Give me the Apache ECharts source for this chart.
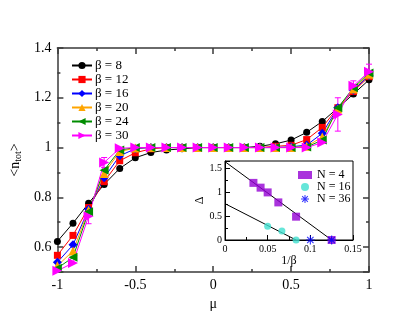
<!DOCTYPE html>
<html>
<head>
<meta charset="utf-8">
<script src="https://cdn.jsdelivr.net/npm/echarts@6/dist/echarts.min.js"></script>
<style>
  html, body { margin: 0; padding: 0; background: #fff; }
  #chart { width: 415px; height: 321px; }
</style>
</head>
<body>
<div id="chart"></div>
<script>
// main panel: <n_tot> vs mu for several beta
const muVals = [-1, -0.9, -0.8, -0.7, -0.6, -0.5, -0.4, -0.3, -0.2, -0.1, 0, 0.1, 0.2, 0.3, 0.4, 0.5, 0.6, 0.7, 0.8, 0.9, 1];
const beta8  = [0.623, 0.696, 0.776, 0.852, 0.916, 0.959, 0.98, 0.99, 0.995, 1.0, 1.0, 1.0, 1.0, 1.005, 1.015, 1.03, 1.061, 1.105, 1.159, 1.215, 1.272];
const beta12 = [0.567, 0.647, 0.759, 0.863, 0.947, 0.979, 0.995, 1.0, 1.0, 1.0, 1.0, 1.0, 1.0, 1.0, 1.005, 1.009, 1.032, 1.081, 1.16, 1.225, 1.285];
const beta16 = [0.539, 0.609, 0.752, 0.879, 0.967, 0.995, 1.0, 1.0, 1.0, 1.0, 1.0, 1.0, 1.0, 1.0, 1.0, 1.003, 1.01, 1.057, 1.16, 1.23, 1.29];
const beta20 = [0.525, 0.584, 0.748, 0.896, 0.984, 0.998, 1.0, 1.0, 1.0, 1.0, 1.0, 1.0, 1.0, 1.0, 1.0, 1.0, 1.005, 1.042, 1.155, 1.235, 1.295];
const beta24 = [0.515, 0.559, 0.742, 0.909, 0.99, 1.0, 1.0, 1.0, 1.0, 1.0, 1.0, 1.0, 1.0, 1.0, 1.0, 1.0, 1.002, 1.03, 1.16, 1.24, 1.3];
const beta30 = [0.505, 0.536, 0.724, 0.94, 0.997, 1.0, 1.0, 1.0, 1.0, 1.0, 1.0, 1.0, 1.0, 1.0, 1.0, 1.0, 1.0, 1.02, 1.133, 1.248, 1.305];
// error bars on beta = 30: [mu, value, error]
const beta30Err = [[-0.8, 0.724, 0.03], [-0.7, 0.94, 0.02], [0.8, 1.133, 0.067], [0.9, 1.248, 0.02], [1.0, 1.305, 0.03]];

// inset: gap vs 1/beta
const n4X  = [0.0333, 0.0417, 0.05, 0.0625, 0.0833, 0.125];
const n4Y  = [1.2, 1.1, 1.0, 0.79, 0.49, 0.0];
const n16X = [0.05, 0.0667, 0.0833];
const n16Y = [0.29, 0.19, 0.0];
const n36X = [0.1, 0.125];
const n36Y = [0.0, 0.0];
const fit1 = [[0, 1.646], [0.125, 0]];
const fit2 = [[0, 0.764], [0.0833, 0]];

const FONT = 'Liberation Serif';
const AXIS = '#3a3a3a';
const zip = (xs, ys) => xs.map((x, i) => [x, ys[i]]);
const asterisk = 'path://M-1,-8L1,-8L1,8L-1,8Z M-8,-1L8,-1L8,1L-8,1Z M-5,-6.4L6.4,5L5,6.4L-6.4,-5Z M6.4,-5L-5,6.4L-6.4,5L5,-6.4Z';

const chart = echarts.init(document.getElementById('chart'), null, { renderer: 'canvas' });

function mainSeries(name, ys, color, symbol, size, rotate) {
  return {
    name: name,
    type: 'line',
    xAxisIndex: 0,
    yAxisIndex: 0,
    data: zip(muVals, ys),
    symbol: symbol,
    symbolSize: size,
    symbolRotate: rotate || 0,
    showAllSymbol: true,
    itemStyle: { color: color },
    lineStyle: { color: color, width: 1 },
    z: 3
  };
}

function mainAxisX(pos) {
  return {
    type: 'value', gridIndex: 0, position: pos,
    min: -1, max: 1, interval: 0.5,
    axisLine: { show: true, onZero: false, lineStyle: { color: AXIS, width: 1.5 } },
    axisTick: { show: true, inside: true, length: 6, lineStyle: { color: AXIS, width: 1.5 } },
    minorTick: { show: true, splitNumber: 2, length: 3, lineStyle: { color: AXIS, width: 1.5 } },
    axisLabel: { show: pos === 'bottom', color: '#000', fontFamily: FONT, fontSize: 14, margin: 6 },
    splitLine: { show: false },
    name: pos === 'bottom' ? 'μ' : '',
    nameLocation: 'middle', nameGap: 21,
    nameTextStyle: { color: '#000', fontFamily: FONT, fontSize: 14 }
  };
}

function mainAxisY(pos) {
  return {
    type: 'value', gridIndex: 0, position: pos,
    min: 0.5, max: 1.4, splitNumber: 5,
    axisLine: { show: true, onZero: false, lineStyle: { color: AXIS, width: 1.5 } },
    axisTick: { show: true, inside: true, length: 6, lineStyle: { color: AXIS, width: 1.5 } },
    minorTick: { show: true, splitNumber: 2, length: 3, lineStyle: { color: AXIS, width: 1.5 } },
    axisLabel: {
      show: pos === 'left', showMinLabel: false, color: '#000', fontFamily: FONT, fontSize: 14, margin: 6,
      formatter: v => String(Math.round(v * 10) / 10)
    },
    splitLine: { show: false },
    name: pos === 'left' ? '<n{s|tot}>' : '',
    nameLocation: 'middle', nameGap: 28, nameRotate: 90,
    nameTextStyle: {
      color: '#000', fontFamily: FONT, fontSize: 14,
      rich: { s: { fontFamily: FONT, fontSize: 10, verticalAlign: 'bottom', padding: [6, 0, 0, 0] } }
    }
  };
}

const insetAxisStyle = {
  axisLine: { show: true, onZero: false, lineStyle: { color: '#000', width: 1 } },
  axisTick: { show: true, inside: true, length: 5, lineStyle: { color: '#000' } },
  minorTick: { show: true, splitNumber: 2, length: 3, lineStyle: { color: '#000' } },
  splitLine: { show: false }
};

const option = {
  backgroundColor: '#fff',
  animation: false,
  grid: [
    { left: 48, top: 48, right: 46, bottom: 49 },
    { left: 225, top: 161, right: 62, bottom: 81, show: true, backgroundColor: '#fff', borderColor: '#000', borderWidth: 1, z: 4 }
  ],
  legend: [
    {
      data: ['β = 8', 'β = 12', 'β = 16', 'β = 20', 'β = 24', 'β = 30'],
      orient: 'vertical', left: 66, top: 54, itemGap: 1,
      itemWidth: 20, itemHeight: 9,
      textStyle: { color: '#000', fontFamily: FONT, fontSize: 13, padding: [0, 0, 0, -2] }
    },
    {
      data: ['N = 4', 'N = 16', 'N = 36'],
      orient: 'vertical', left: 293, top: 164, itemGap: 0,
      itemWidth: 14, itemHeight: 8,
      textStyle: { color: '#000', fontFamily: FONT, fontSize: 12 },
      z: 6
    }
  ],
  xAxis: [
    mainAxisX('bottom'),
    mainAxisX('top'),
    Object.assign({
      type: 'value', gridIndex: 1, min: 0, max: 0.15, interval: 0.05,
      axisLabel: { color: '#000', fontFamily: FONT, fontSize: 10, margin: 4, formatter: v => String(Math.round(v * 100) / 100) },
      name: '1/β', nameLocation: 'middle', nameGap: 15,
      nameTextStyle: { color: '#000', fontFamily: FONT, fontSize: 12 },
      z: 5
    }, insetAxisStyle)
  ],
  yAxis: [
    mainAxisY('left'),
    mainAxisY('right'),
    Object.assign({
      type: 'value', gridIndex: 1, min: 0, max: 1.66, interval: 0.5,
      axisLabel: { color: '#000', fontFamily: FONT, fontSize: 10, margin: 3, showMaxLabel: false },
      name: 'Δ', nameLocation: 'middle', nameGap: 16, nameRotate: 90,
      nameTextStyle: { color: '#000', fontFamily: FONT, fontSize: 12 },
      z: 5
    }, insetAxisStyle)
  ],
  series: [
    {
      name: 'err30',
      type: 'custom',
      xAxisIndex: 0, yAxisIndex: 0,
      data: beta30Err,
      z: 2,
      renderItem: (params, api) => {
        const x = api.value(0), y = api.value(1), e = api.value(2);
        const top = api.coord([x, y + e]);
        const bot = api.coord([x, y - e]);
        const style = { stroke: '#ff00ff', lineWidth: 1 };
        return {
          type: 'group',
          children: [
            { type: 'line', shape: { x1: top[0], y1: top[1], x2: bot[0], y2: bot[1] }, style: style },
            { type: 'line', shape: { x1: top[0] - 3, y1: top[1], x2: top[0] + 3, y2: top[1] }, style: style },
            { type: 'line', shape: { x1: bot[0] - 3, y1: bot[1], x2: bot[0] + 3, y2: bot[1] }, style: style }
          ]
        };
      }
    },
    mainSeries('β = 8', beta8, '#000000', 'circle', 7),
    mainSeries('β = 12', beta12, '#ff0000', 'rect', 7),
    mainSeries('β = 16', beta16, '#0000ff', 'diamond', 9),
    mainSeries('β = 20', beta20, '#ffa500', 'triangle', 9),
    mainSeries('β = 24', beta24, '#008c00', 'triangle', 9, 90),
    mainSeries('β = 30', beta30, '#ff00ff', 'triangle', 10, -90),

    // inset
    {
      name: 'fit1', type: 'line', xAxisIndex: 2, yAxisIndex: 2, data: fit1,
      showSymbol: false, lineStyle: { color: '#000', width: 1 }, z: 6
    },
    {
      name: 'fit2', type: 'line', xAxisIndex: 2, yAxisIndex: 2, data: fit2,
      showSymbol: false, lineStyle: { color: '#000', width: 1 }, z: 6
    },
    {
      name: 'N = 4', type: 'scatter', xAxisIndex: 2, yAxisIndex: 2, data: zip(n4X, n4Y),
      symbol: 'rect', symbolSize: 8, itemStyle: { color: '#9400d3' }, z: 7
    },
    {
      name: 'N = 16', type: 'scatter', xAxisIndex: 2, yAxisIndex: 2, data: zip(n16X, n16Y),
      symbol: 'circle', symbolSize: 7, itemStyle: { color: '#40e0d0' }, z: 7
    },
    {
      name: 'N = 36', type: 'scatter', xAxisIndex: 2, yAxisIndex: 2, data: zip(n36X, n36Y),
      symbol: asterisk, symbolSize: 9, itemStyle: { color: '#0000ff' }, z: 8
    }
  ]
};

chart.setOption(option);
</script>
</body>
</html>
